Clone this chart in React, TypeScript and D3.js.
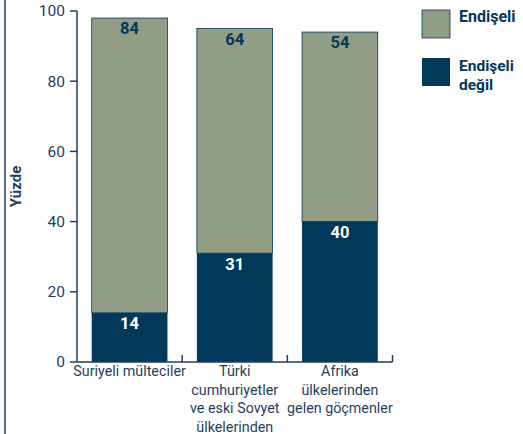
import React from "react";
import * as d3 from "d3";

const categories = [
  ["Suriyeli mülteciler"],
  ["Türki", "cumhuriyetler", "ve eski Sovyet", "ülkelerinden"],
  ["Afrika", "ülkelerinden", "gelen göçmenler"],
];
const notWorried = [14, 31, 40];
const worried = [84, 64, 54];
const yTicks = [0, 20, 40, 60, 80, 100];
const seriesNames = ["Endişeli", "Endişeli değil"];

const DARK = "#02385A";
const GREEN = "#929D85";
const TEXT = "#1E3F5E";
const FONT = "Roboto, 'Liberation Sans', sans-serif";

export default function App() {
  const W = 523, H = 434;
  const y = d3.scaleLinear().domain([0, 100]).range([362, 11]);
  const x = d3.scaleBand<number>().domain([0, 1, 2]).range([77, 392.5]).paddingInner(0.28).paddingOuter(0.14);
  const step = x.step();
  const x0 = 77;
  return (
    <svg width={W} height={H} style={{ position: "absolute", left: 0, top: 0 }} fontFamily={FONT}>
      <line x1={5} x2={5} y1={0} y2={H} stroke={TEXT} strokeWidth={1.5} />
      {/* y axis */}
      <line x1={x0} x2={x0} y1={y(100)} y2={y(0)} stroke={TEXT} strokeWidth={1.5} />
      {yTicks.map((t) => (
        <g key={t}>
          <line x1={70} x2={x0} y1={y(t)} y2={y(t)} stroke={TEXT} strokeWidth={1.5} />
          <text x={65} y={y(t)} dy="0.35em" textAnchor="end" fontSize={15.5} fill={TEXT}>{t}</text>
        </g>
      ))}
      <text transform={`translate(21,${(y(0) + y(100)) / 2}) rotate(-90)`} textAnchor="middle" fontSize={15} fontWeight="bold" fill={TEXT}>Yüzde</text>
      {/* bars */}
      {categories.map((c, i) => {
        const bx = x(i)!;
        const bw = x.bandwidth();
        const n = notWorried[i];
        const w = worried[i];
        return (
          <g key={i}>
            <rect x={bx} y={y(n + w)} width={bw} height={y(n) - y(n + w)} fill={GREEN} stroke={DARK} strokeWidth={0.8} />
            <rect x={bx} y={y(n)} width={bw} height={y(0) - y(n)} fill={DARK} />
            <text x={bx + bw / 2} y={y(n + w) + 16} textAnchor="middle" fontSize={16.5} fontWeight="bold" fill={DARK}>{w}</text>
            <text x={bx + bw / 2} y={y(n) + 16.5} textAnchor="middle" fontSize={16.5} fontWeight="bold" fill="#ffffff">{n}</text>
          </g>
        );
      })}
      {/* x axis */}
      <line x1={x0} x2={x0 + step * 3} y1={y(0)} y2={y(0)} stroke={TEXT} strokeWidth={1.5} />
      {[1, 2, 3].map((k) => (
        <line key={k} x1={x0 + step * k} x2={x0 + step * k} y1={y(0)} y2={y(0) - 7} stroke={TEXT} strokeWidth={1.5} />
      ))}
      {categories.map((c, i) => (
        <text key={i} x={x(i)! + x.bandwidth() / 2} textAnchor="middle" fontSize={14.3} fill={TEXT}>
          {c.map((l, j) => (
            <tspan key={j} x={x(i)! + x.bandwidth() / 2} y={376 + j * 18.7}>{l}</tspan>
          ))}
        </text>
      ))}
      {/* legend */}
      <rect x={422} y={10} width={28} height={28} fill={GREEN} stroke={DARK} strokeWidth={0.8} />
      <text x={459} y={22} fontSize={16} fontWeight="bold" fill={DARK}>{seriesNames[0]}</text>
      <rect x={422} y={58} width={28} height={28} fill={DARK} />
      <text fontSize={15.5} fontWeight="bold" fill={DARK}>
        <tspan x={459} y={71}>Endişeli</tspan>
        <tspan x={459} y={89.5}>değil</tspan>
      </text>
    </svg>
  );
}
